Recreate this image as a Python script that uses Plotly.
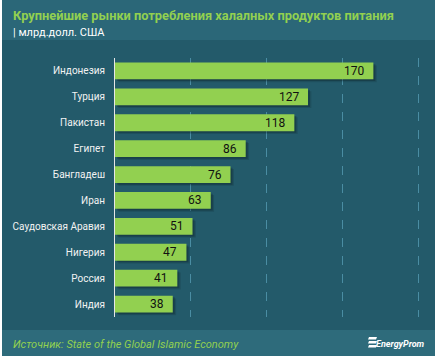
import plotly.graph_objects as go

countries = ["Индонезия", "Турция", "Пакистан", "Египет", "Бангладеш", "Иран",
             "Саудовская Аравия", "Нигерия", "Россия", "Индия"]
values = [170, 127, 118, 86, 76, 63, 51, 47, 41, 38]
x_ticks = [0, 50, 100, 150, 200]

title = "Крупнейшие рынки потребления халалных продуктов питания"
subtitle = "| млрд.долл. США"
source = "Источник: State of the Global Islamic Economy"

W, H = 438, 360
ML, MR, MT, MB = 115, 16, 58, 43
BG = "#235A6A"
HEADER = "#2B6778"
FOOTER = "#2E6B7B"
GREEN = "#92D050"

fig = go.Figure()

# soft shadow (two layers)
for shift, alpha in [(2.2, 0.12), (1.3, 0.2)]:
    fig.add_trace(go.Bar(
        y=countries, x=values, base=shift, orientation="h",
        marker=dict(color=f"rgba(0,0,0,{alpha})", line=dict(width=0)),
        width=0.65, offset=-0.325 + shift * 0.05, hoverinfo="skip", showlegend=False))
fig.add_trace(go.Bar(
    y=countries, x=values, orientation="h",
    marker=dict(color=GREEN, line=dict(width=0)),
    width=0.65, showlegend=False))

for c, v in zip(countries, values):
    fig.add_annotation(x=v, y=c, xref="x", yref="y", text=str(v),
                       showarrow=False, xanchor="right", xshift=-7,
                       font=dict(family="Roboto", size=12, color="#111111"))

fig.update_layout(
    width=W, height=H,
    margin=dict(l=ML, r=MR, t=MT, b=MB, autoexpand=False),
    paper_bgcolor="white", plot_bgcolor=BG,
    barmode="overlay",
    font=dict(family="Roboto", color="white"),
    xaxis=dict(range=[0, 202], tickvals=x_ticks, showticklabels=False, automargin=False,
               showgrid=True, gridcolor="#4A8DA3", griddash="dash", gridwidth=1,
               zeroline=False, showline=False, fixedrange=True),
    yaxis=dict(categoryorder="array", categoryarray=countries, autorange="reversed",
               automargin=False,
               showgrid=False, showline=True, linecolor="#E6E6E6", linewidth=1,
               ticks="", ticklabelstandoff=7,
               tickfont=dict(family="Roboto", size=10, color="#F2F2F2")),
)

def px(x):
    return (x - ML) / (W - ML - MR)

def py(y):
    return 1 - (y - MT) / (H - MT - MB)

bg_shapes = [
    dict(type="rect", xref="paper", yref="paper", layer="below",
         x0=px(2), x1=px(435), y0=py(356), y1=py(0), line=dict(width=0), fillcolor=BG),
    dict(type="rect", xref="paper", yref="paper", layer="below",
         x0=px(2), x1=px(435), y0=py(40), y1=py(0), line=dict(width=0), fillcolor=HEADER),
    dict(type="rect", xref="paper", yref="paper", layer="below",
         x0=px(2), x1=px(435), y0=py(356), y1=py(330), line=dict(width=0), fillcolor=FOOTER),
]
for i in range(3):
    y0 = 337 + i * 4
    bg_shapes.append(dict(type="path", xref="paper", yref="paper", layer="above",
                          path=f"M {px(369)} {py(y0)} L {px(377)} {py(y0)} L {px(376)} {py(y0+2.5)} L {px(368)} {py(y0+2.5)} Z",
                          fillcolor="white", line=dict(width=0)))
fig.update_layout(shapes=bg_shapes)

fig.add_annotation(xref="paper", yref="paper", x=px(11), y=py(15), xanchor="left", yanchor="middle",
                   text=f"<b>{title}</b>", showarrow=False,
                   font=dict(family="Roboto", size=12.8, color=GREEN))
fig.add_annotation(xref="paper", yref="paper", x=px(11), y=py(33), xanchor="left", yanchor="middle",
                   text=subtitle, showarrow=False,
                   font=dict(family="Roboto", size=11, color="white"))
fig.add_annotation(xref="paper", yref="paper", x=px(11), y=py(344), xanchor="left", yanchor="middle",
                   text=f"<i>{source}</i>", showarrow=False,
                   font=dict(family="Roboto", size=11, color=GREEN))
fig.add_annotation(xref="paper", yref="paper", x=px(427), y=py(344), xanchor="right", yanchor="middle",
                   text="<b><i>EnergyProm</i></b>", showarrow=False,
                   font=dict(family="Roboto", size=9, color="white"))

fig.write_html("out.html", config={"displayModeBar": False},
               post_script="document.body.style.margin='0';document.body.style.overflow='hidden';")
